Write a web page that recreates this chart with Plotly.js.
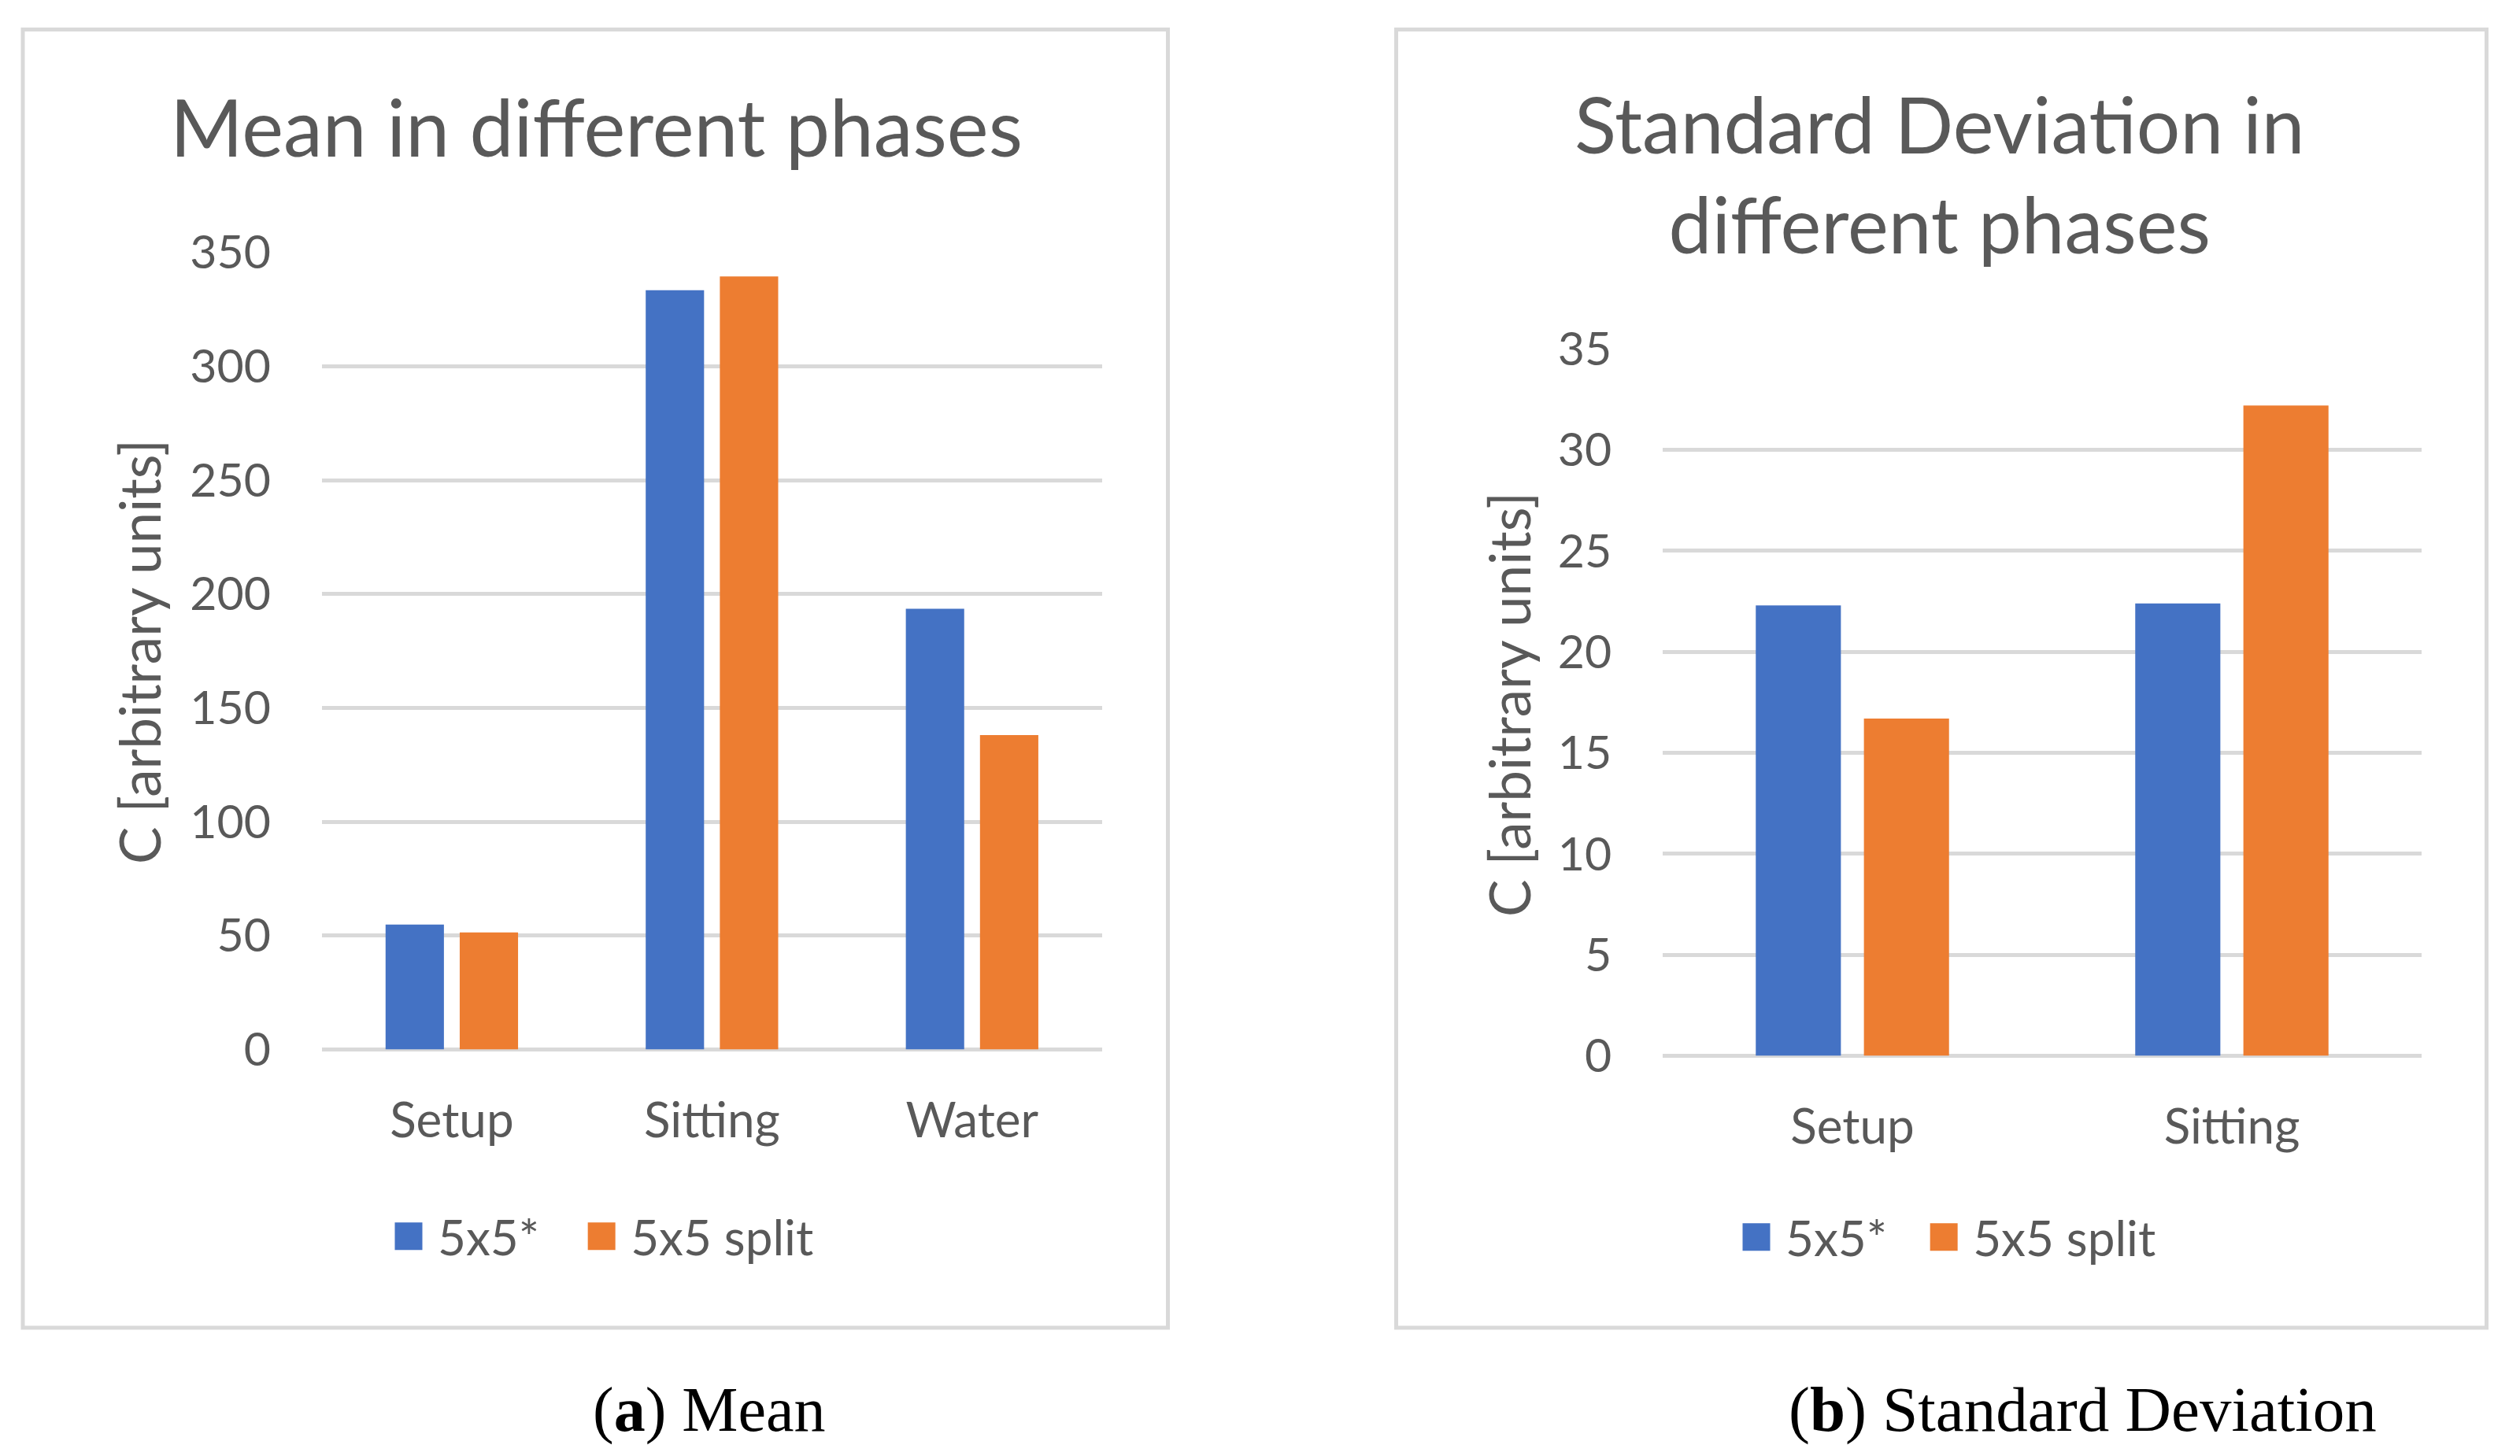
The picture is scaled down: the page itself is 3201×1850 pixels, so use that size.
<!DOCTYPE html>
<html>
<head>
<meta charset="utf-8">
<script src="https://cdn.plot.ly/plotly-3.0.1.min.js"></script>
<style>
  html, body { margin: 0; padding: 0; background: #ffffff; }
  #chart { width: 3201px; height: 1850px; }
</style>
</head>
<body>
<div id="chart"></div>
<script>
// ---------------- data ----------------
const seriesNames = ['5x5*', '5x5 split'];
const seriesColors = ['#4472C4', '#ED7D31'];

const meanCategories = ['Setup', 'Sitting', 'Water'];
const mean5x5 = [54.9, 333.4, 193.5];
const meanSplit = [51.4, 339.4, 138.1];

const stdCategories = ['Setup', 'Sitting'];
const std5x5 = [22.3, 22.4];
const stdSplit = [16.7, 32.2];

const meanTitle = 'Mean in different phases';
const stdTitle = 'Standard Deviation in<br>different phases';
const yAxisLabel = 'C [arbitrary units]';
const captionA = '(<b>a</b>) Mean';
const captionB = '(<b>b</b>) Standard Deviation';

// ---------------- style ----------------
const W = 3201, H = 1850;
const FONT = 'Lato, "Open Sans", sans-serif';
const SERIF = '"Liberation Serif", "DejaVu Serif", serif';
const TXT = '#595959';
const GRID = '#D9D9D9';
const px = v => v / W;
const py = v => 1 - v / H;

const traces = [
  { type: 'bar', x: meanCategories, y: mean5x5, name: seriesNames[0],
    marker: { color: seriesColors[0] }, xaxis: 'x', yaxis: 'y', legend: 'legend' },
  { type: 'bar', x: meanCategories, y: meanSplit, name: seriesNames[1],
    marker: { color: seriesColors[1] }, xaxis: 'x', yaxis: 'y', legend: 'legend' },
  { type: 'bar', x: stdCategories, y: std5x5, name: seriesNames[0],
    marker: { color: seriesColors[0] }, xaxis: 'x2', yaxis: 'y2', legend: 'legend2' },
  { type: 'bar', x: stdCategories, y: stdSplit, name: seriesNames[1],
    marker: { color: seriesColors[1] }, xaxis: 'x2', yaxis: 'y2', legend: 'legend2' }
];

function xAxis(domain, anchor) {
  return {
    domain: domain, anchor: anchor, type: 'category',
    showgrid: false, zeroline: false, showline: false,
    ticks: 'outside', ticklen: 36, tickcolor: 'rgba(0,0,0,0)',
    tickfont: { family: FONT, size: 62, color: TXT },
    fixedrange: true
  };
}
function yAxis(domain, anchor, range, dtick) {
  return {
    domain: domain, anchor: anchor, range: range, dtick: dtick,
    showgrid: true, gridcolor: GRID, gridwidth: 5,
    zeroline: true, zerolinecolor: GRID, zerolinewidth: 5,
    showline: false,
    ticks: 'outside', ticklen: 52, tickcolor: 'rgba(0,0,0,0)',
    tickfont: { family: FONT, size: 59, color: TXT },
    fixedrange: true
  };
}

const legendBase = {
  orientation: 'h', xanchor: 'left', yanchor: 'middle',
  bgcolor: 'rgba(0,0,0,0)', borderwidth: 0,
  font: { family: FONT, size: 62, color: TXT },
  itemclick: false, itemdoubleclick: false,
  traceorder: 'normal'
};
// item widths (px) of the two legends; wider item area spreads the entries apart
const LEG_ITEM_W = { legend: 101, legend2: 94 };
const SWATCH_GAP = 37;   // distance from swatch centre to label start
const SWATCH_HALF = 17.5;

const layout = {
  width: W, height: H,
  margin: { l: 0, r: 0, t: 0, b: 0, pad: 0 },
  paper_bgcolor: '#ffffff', plot_bgcolor: 'rgba(0,0,0,0)',
  barmode: 'group', bargap: 0.43, bargroupgap: 0.213,
  showlegend: true,
  xaxis: xAxis([px(408.7), px(1400)], 'y'),
  yaxis: yAxis([py(1333.5), py(320.7)], 'x', [0, 350], 50),
  xaxis2: xAxis([px(2112), px(3076)], 'y2'),
  yaxis2: yAxis([py(1341.5), py(443.3)], 'x2', [0, 35], 5),
  legend: Object.assign({}, legendBase, { x: px(445), y: py(1571), itemwidth: LEG_ITEM_W.legend }),
  legend2: Object.assign({}, legendBase, { x: px(2164), y: py(1572), itemwidth: LEG_ITEM_W.legend2 }),
  shapes: [
    { type: 'rect', xref: 'paper', yref: 'paper', x0: px(29), x1: px(1483.5), y0: py(1687), y1: py(37.5),
      line: { color: GRID, width: 5 }, fillcolor: 'rgba(0,0,0,0)', layer: 'below' },
    { type: 'rect', xref: 'paper', yref: 'paper', x0: px(1773.5), x1: px(3158.5), y0: py(1687), y1: py(37.5),
      line: { color: GRID, width: 5 }, fillcolor: 'rgba(0,0,0,0)', layer: 'below' }
  ],
  annotations: [
    { text: meanTitle, xref: 'paper', yref: 'paper', x: px(757), y: py(160), xanchor: 'center', yanchor: 'middle',
      showarrow: false, font: { family: FONT, size: 100, color: TXT } },
    { text: stdTitle, xref: 'paper', yref: 'paper', x: px(2463), y: py(220), xanchor: 'center', yanchor: 'middle',
      showarrow: false, font: { family: FONT, size: 98, color: TXT } },
    { text: yAxisLabel, xref: 'paper', yref: 'paper', x: px(176), y: py(828), xanchor: 'center', yanchor: 'middle',
      textangle: -90, showarrow: false, font: { family: FONT, size: 71, color: TXT } },
    { text: yAxisLabel, xref: 'paper', yref: 'paper', x: px(1917), y: py(895), xanchor: 'center', yanchor: 'middle',
      textangle: -90, showarrow: false, font: { family: FONT, size: 71, color: TXT } },
    { text: captionA, xref: 'paper', yref: 'paper', x: px(900), y: py(1791), xanchor: 'center', yanchor: 'middle',
      showarrow: false, font: { family: SERIF, size: 80, color: '#000000' } },
    { text: captionB, xref: 'paper', yref: 'paper', x: px(2645), y: py(1791), xanchor: 'center', yanchor: 'middle',
      showarrow: false, font: { family: SERIF, size: 81, color: '#000000' } }
  ]
};

const gd = document.getElementById('chart');
// Plotly centres the legend key at itemwidth/2 + 5 and starts the label at itemwidth + 10;
// enlarge the key to a 35px square whose centre sits SWATCH_GAP px left of the label start.
function swatchPath(itemW) {
  const c = (itemW / 2 + 5) - SWATCH_GAP;
  const l = c - SWATCH_HALF, r = c + SWATCH_HALF, h = SWATCH_HALF;
  return 'M' + r + ',' + h + 'H' + l + 'V' + (-h) + 'H' + r + 'Z';
}
function enlargeLegendSwatches() {
  Object.keys(LEG_ITEM_W).forEach(function (id) {
    const d = swatchPath(LEG_ITEM_W[id]);
    gd.querySelectorAll('g.' + id + ' g.legendpoints path').forEach(function (p) {
      if (p.getAttribute('d') !== d) p.setAttribute('d', d);
    });
  });
}
Plotly.newPlot(gd, traces, layout, { staticPlot: true, displayModeBar: false }).then(function () {
  enlargeLegendSwatches();
  if (gd.on) gd.on('plotly_afterplot', enlargeLegendSwatches);
  new MutationObserver(enlargeLegendSwatches).observe(gd, { subtree: true, childList: true, attributes: true, attributeFilter: ['d'] });
  setTimeout(enlargeLegendSwatches, 50);
  setTimeout(enlargeLegendSwatches, 300);
});
</script>
</body>
</html>
